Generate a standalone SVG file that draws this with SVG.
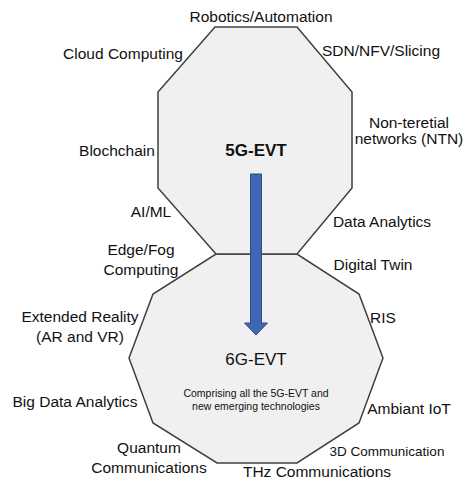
<svg xmlns="http://www.w3.org/2000/svg" width="465" height="483" viewBox="0 0 465 483">
<style>
.shape{fill:#f0f0f0;stroke:#404040;stroke-width:1.5;stroke-linejoin:miter}
.lbl{font-family:"Liberation Sans",Arial,sans-serif;font-size:15.5px;fill:#111111;text-anchor:middle}
.sm{font-size:13.5px}
.title{font-family:"Liberation Sans",Arial,sans-serif;font-size:17px;fill:#111111;text-anchor:middle}
.desc{font-family:"Liberation Sans",Arial,sans-serif;font-size:10.5px;fill:#111111;text-anchor:middle}
</style>
<rect width="465" height="483" fill="#ffffff"/>
<g id="node-6g">
<polygon class="shape" points="216,254 297,254 359,294 383,358 359,423 297,463 217,463 153,423 129,358 153,294"/>
<text class="title" x="256" y="365">6G-EVT</text>
<text class="desc" x="256" y="397">Comprising all the 5G-EVT and</text>
<text class="desc" x="256" y="410">new emerging technologies</text>
</g>
<g id="node-5g">
<polygon class="shape" points="215,27 297,27 352,92 352,188 297,254 216,254 158,188 158,92"/>
<text class="title" x="256" y="156" font-weight="bold">5G-EVT</text>
</g>
<g id="connectors">
<path d="M250.5,174 H261.5 V323 H267.5 L256,335 L244.5,323 H250.5 Z" fill="#4066b4" stroke="#2c4a86" stroke-width="1"/>
</g>
<g id="labels">
<text class="lbl" x="261" y="22">Robotics/Automation</text>
<text class="lbl" x="123" y="59">Cloud Computing</text>
<text class="lbl" x="381" y="56">SDN/NFV/Slicing</text>
<text class="lbl" x="409" y="128">Non-teretial</text>
<text class="lbl" x="409" y="144">networks (NTN)</text>
<text class="lbl" x="117" y="156">Blochchain</text>
<text class="lbl" x="151" y="217">AI/ML</text>
<text class="lbl" x="382" y="227">Data Analytics</text>
<text class="lbl" x="141" y="255">Edge/Fog</text>
<text class="lbl" x="141" y="275">Computing</text>
<text class="lbl" x="373" y="270">Digital Twin</text>
<text class="lbl" x="383" y="323">RIS</text>
<text class="lbl" x="80" y="322">Extended Reality</text>
<text class="lbl" x="80" y="342">(AR and VR)</text>
<text class="lbl" x="75" y="407">Big Data Analytics</text>
<text class="lbl" x="409" y="414">Ambiant IoT</text>
<text class="lbl sm" x="387" y="456">3D Communication</text>
<text class="lbl" x="149" y="453">Quantum</text>
<text class="lbl" x="149" y="473">Communications</text>
<text class="lbl" x="317" y="477">THz Communications</text>
</g>
</svg>
